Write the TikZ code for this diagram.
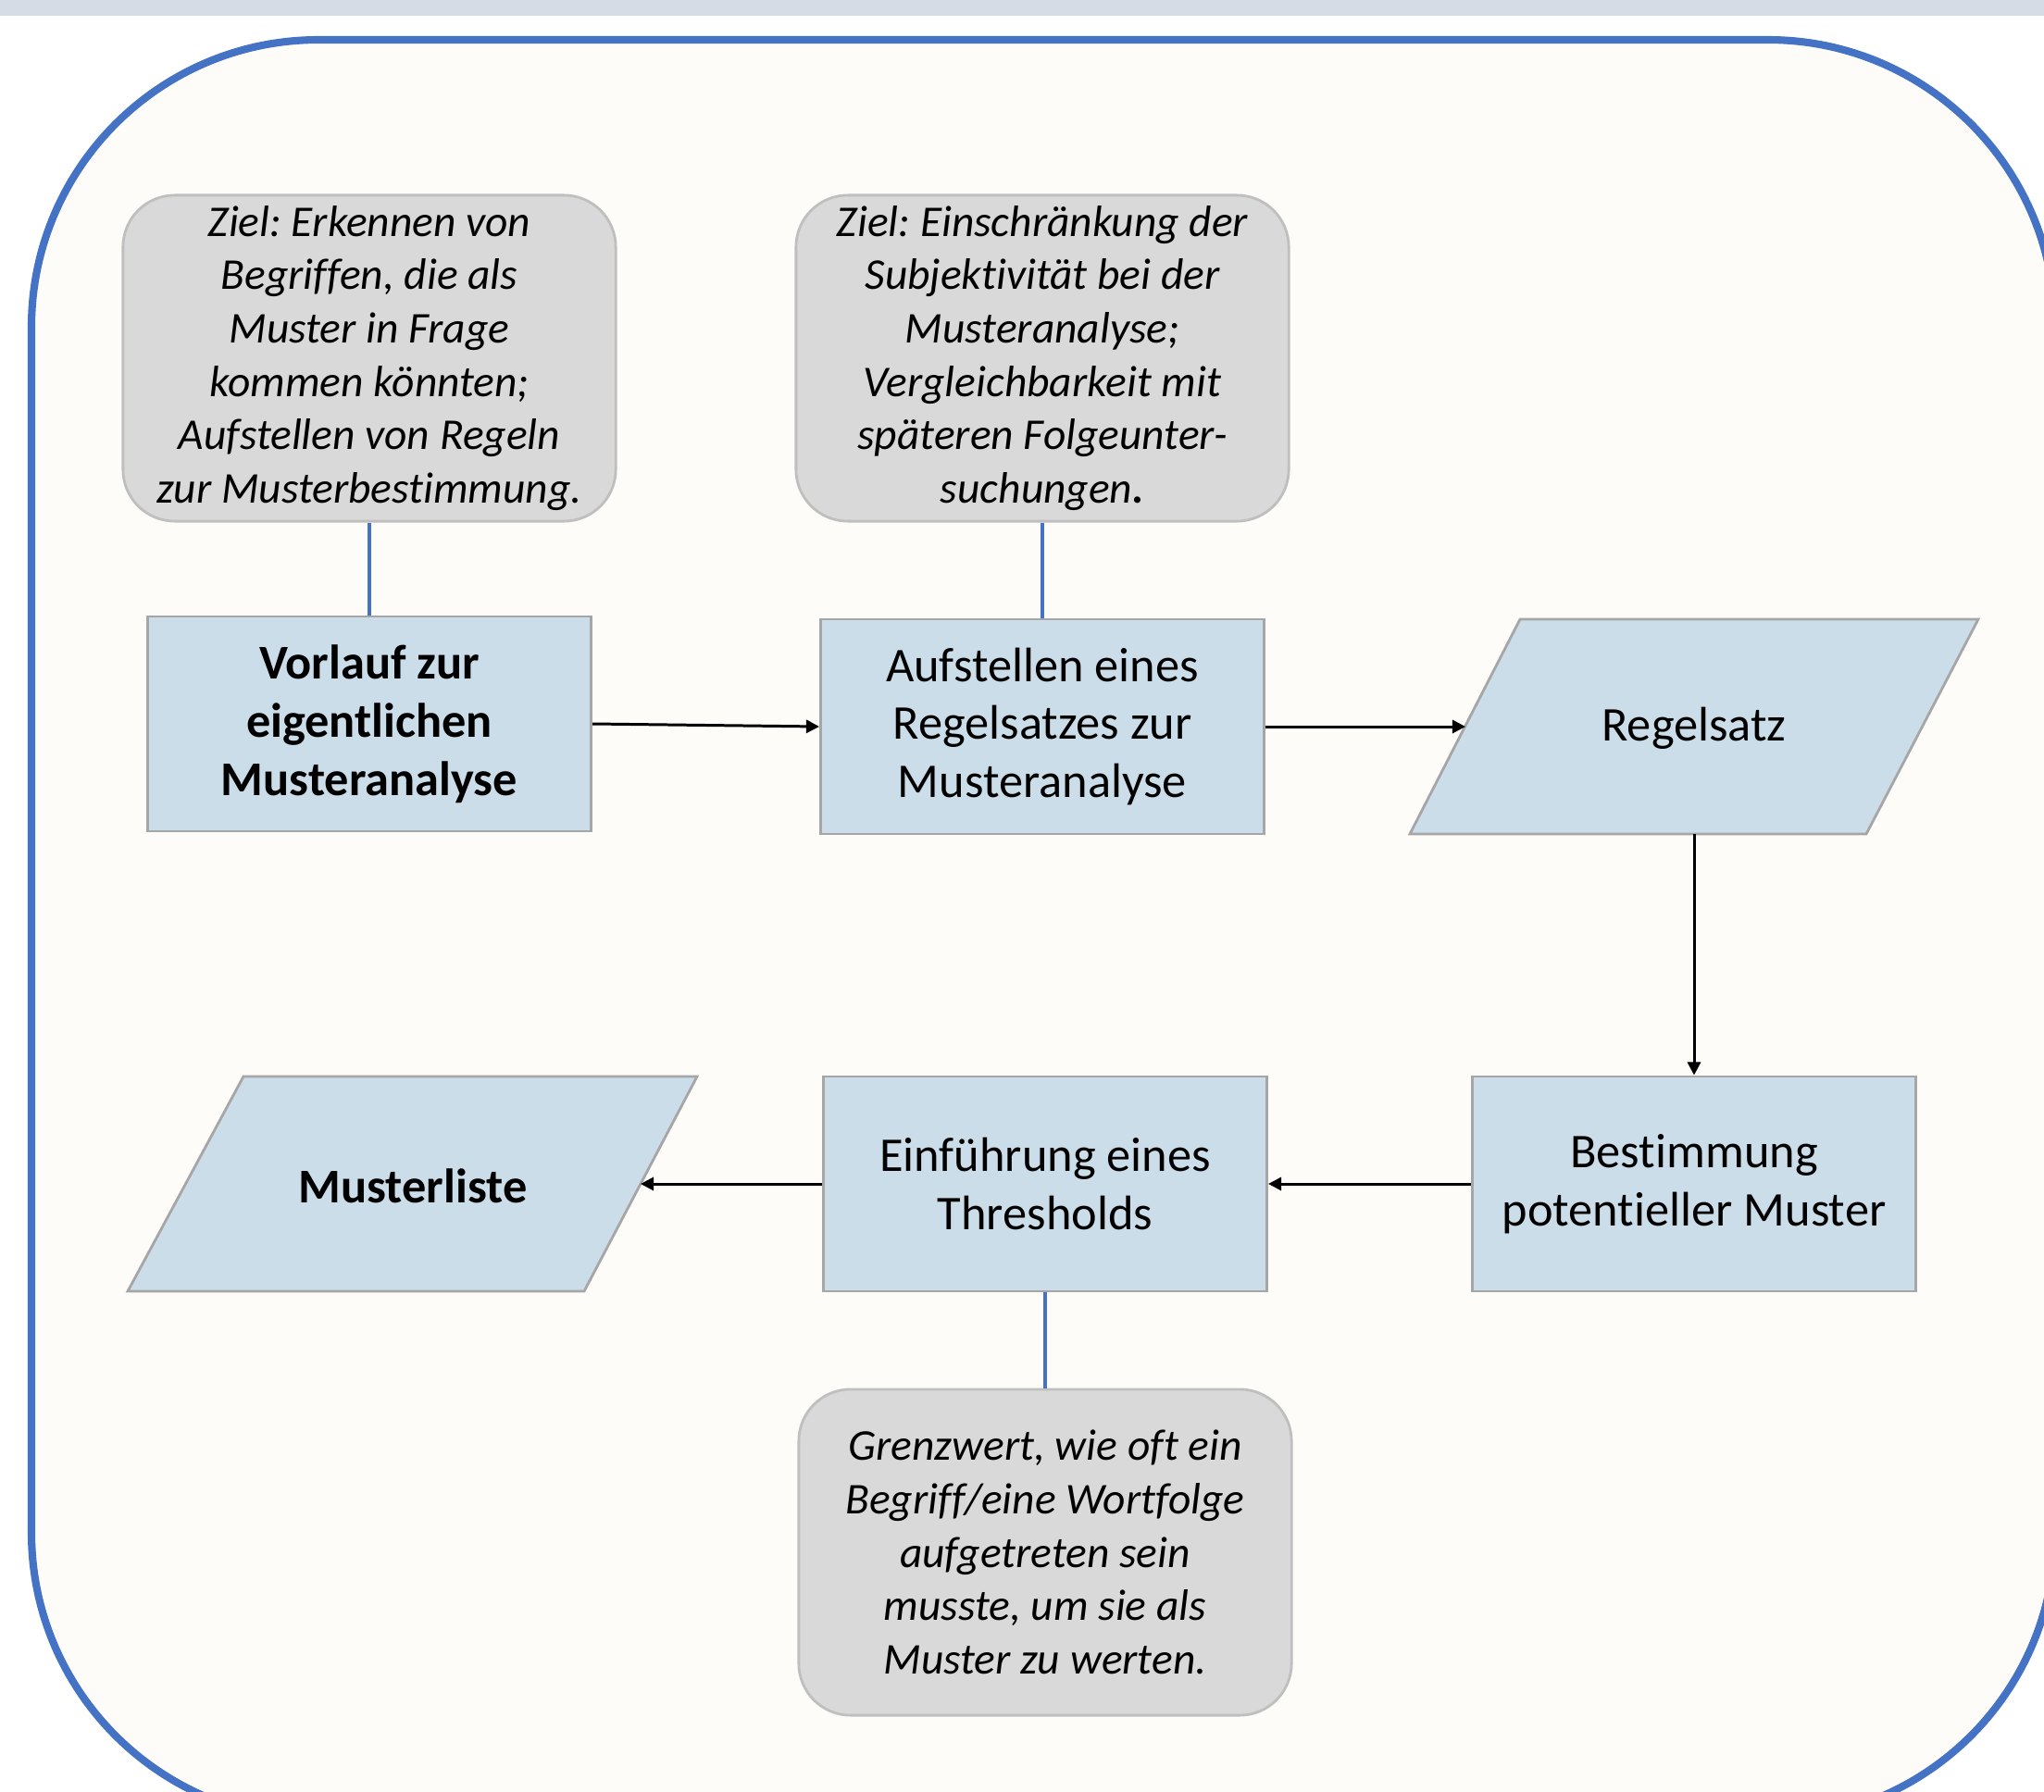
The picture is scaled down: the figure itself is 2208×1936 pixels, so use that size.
\documentclass[tikz,border=0pt]{standalone}
\usepackage{fontspec}
\setmainfont{Carlito}[Ligatures=NoCommon]
\frenchspacing
\usetikzlibrary{arrows.meta}
\definecolor{frameblue}{HTML}{4472C4}
\definecolor{cream}{HTML}{FEFCF8}
\definecolor{boxfill}{HTML}{CCDDEA}
\definecolor{boxline}{HTML}{A6A6A6}
\definecolor{notefill}{HTML}{D9D9D9}
\definecolor{noteline}{HTML}{BFBFBF}
\definecolor{band}{HTML}{D6DCE5}
\begin{document}
\begin{tikzpicture}[x=0.01cm,y=-0.01cm,
  boxfont/.style={font=\fontsize{14.9}{17.9}\selectfont},
  boldfont/.style={font=\fontsize{14.9}{17.9}\selectfont\bfseries},
  procbox/.style={draw=boxline, line width=0.8pt, fill=boxfill, minimum width=4.79cm, minimum height=2.32cm, align=center, inner sep=0pt},
  notebox/.style={draw=noteline, line width=0.8pt, fill=notefill, rounded corners=0.56cm, minimum width=5.32cm, minimum height=3.52cm, align=center, inner sep=0pt, font=\fontsize{13.5}{16.4}\selectfont\itshape},
  paral/.style={draw=boxline, line width=0.8pt, fill=boxfill},
  flow/.style={-{Triangle[length=4pt,width=4pt]}, line width=0.85pt, black},
  link/.style={draw=frameblue, line width=1pt},
]
\useasboundingbox (0,0) rectangle (2208,1936);
\clip (0,0) rectangle (2208,1936);
\fill[white] (0,0) rectangle (2208,1936);
\fill[band] (0,0) rectangle (2208,17);
\draw[frameblue, line width=2.3pt, fill=cream, rounded corners=3.1cm] (34,43) rectangle (2220,1966);

% notes
\node[notebox] (n1) at (399,387) {Ziel: Erkennen von\\Begriffen, die als\\Muster in Frage\\kommen könnten;\\Aufstellen von Regeln\\zur Musterbestimmung.};
\node[notebox] (n2) at (1126,387) {Ziel: Einschränkung der\\Subjektivität bei der\\Musteranalyse;\\Vergleichbarkeit mit\\späteren Folgeunter-\\suchungen\textbf{.}};
\node[notebox] (n3) at (1129,1677) {Grenzwert, wie oft ein\\Begriff/eine Wortfolge\\aufgetreten sein\\musste, um sie als\\Muster zu werten.};

% process boxes
\node[procbox, boldfont] (a) at (399,782) {Vorlauf zur\\eigentlichen\\Musteranalyse};
\node[procbox, boxfont] (b) at (1126,785) {Aufstellen eines\\Regelsatzes zur\\Musteranalyse};
\node[procbox, boxfont] (best) at (1830,1279) {Bestimmung\\potentieller Muster};
\node[procbox, boxfont] (thr) at (1129,1279) {Einführung eines\\Thresholds};

% parallelograms
\path[paral] (1642,669) -- (2137,669) -- (2016,901) -- (1523,901) -- cycle;
\node[boxfont] (reg) at (1830,787) {Regelsatz};
\coordinate (regIn) at (1583,785);
\coordinate (regOut) at (1830,901);

\path[paral] (263,1163) -- (753,1163) -- (631,1395) -- (138,1395) -- cycle;
\node[boldfont] (ml) at (446,1281) {Musterliste};
\coordinate (mlIn) at (692,1279);

% connectors
\draw[flow] (a.east) -- (b.west);
\draw[flow] (b.east) -- (regIn);
\draw[flow] (regOut) -- (best.north);
\draw[flow] (best.west) -- (thr.east);
\draw[flow] (thr.west) -- (mlIn);
\draw[link] (n1.south) -- (a.north);
\draw[link] (n2.south) -- (b.north);
\draw[link] (thr.south) -- (n3.north);
\end{tikzpicture}
\end{document}
